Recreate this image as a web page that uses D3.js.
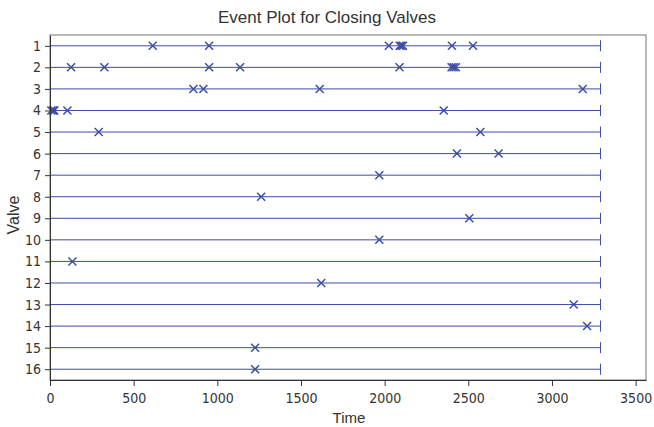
<!DOCTYPE html>
<html>
<head>
<meta charset="utf-8">
<script src="https://cdn.jsdelivr.net/npm/d3@7"></script>
<style>
  body { margin: 0; background: #fff; }
  svg { display: block; }
  .tick text { font-family: "DejaVu Sans Condensed", "DejaVu Sans", sans-serif; font-size: 14px; fill: #333; }
  .tick line { stroke: #333; }
  .domain { stroke: #333; }
</style>
</head>
<body>
<div id="graf"></div>
<script>
// Data
const valves = d3.range(1, 17)
const endTime = 3290
const events = [
  [614, 951, 2025, 2090, 2100, 2110, 2402, 2528],
  [126, 325, 951, 1136, 2089, 2400, 2412, 2425],
  [857, 917, 1612, 3184],
  [8, 18, 26, 104, 2353],
  [291, 2572],
  [2432, 2681],
  [1968],
  [1262],
  [2506],
  [1968],
  [134],
  [1621],
  [3130],
  [3210],
  [1226],
  [1226],
]
const xTicks = [0, 500, 1000, 1500, 2000, 2500, 3000, 3500]

const anchoTotal = 654
const altoTotal = 427
const margins = { left: 50, top: 35, right: 8, bottom: 47 }
const ancho = anchoTotal - margins.left - margins.right
const alto = altoTotal - margins.top - margins.bottom
const color = "#3d4ca5"

const svg = d3
  .select("#graf")
  .append("svg")
  .attr("width", anchoTotal)
  .attr("height", altoTotal)

const g = svg
  .append("g")
  .attr("transform", `translate(${margins.left}, ${margins.top})`)

// Escaladores
const x = d3.scaleLinear().domain([0, 3562]).range([0, ancho])
const y = d3.scaleLinear().domain([0.5, 16.5]).range([0, alto])

// Marco
g.append("rect")
  .attr("width", ancho)
  .attr("height", alto)
  .attr("fill", "none")
  .attr("stroke", "#777")

// Lineas por valvula
const filas = g
  .selectAll("g.fila")
  .data(valves)
  .join("g")
  .attr("class", "fila")
  .attr("transform", (d) => `translate(0, ${y(d)})`)

filas
  .append("line")
  .attr("x1", x(0))
  .attr("x2", x(endTime))
  .attr("stroke", color)
  .attr("stroke-width", 1)

filas
  .append("line")
  .attr("x1", x(endTime))
  .attr("x2", x(endTime))
  .attr("y1", -5.5)
  .attr("y2", 5.5)
  .attr("stroke", color)
  .attr("stroke-width", 1)

// Eventos (cruces)
const s = 4
filas
  .selectAll("path.ev")
  .data((d, i) => events[i])
  .join("path")
  .attr("class", "ev")
  .attr("d", (t) => `M${x(t) - s},${-s}L${x(t) + s},${s}M${x(t) - s},${s}L${x(t) + s},${-s}`)
  .attr("stroke", color)
  .attr("stroke-width", 1.5)
  .attr("fill", "none")

// Ejes
g.append("g")
  .attr("transform", `translate(0, ${alto})`)
  .call(
    d3.axisBottom(x).tickValues(xTicks).tickFormat(d3.format("d"))
      .tickSize(6).tickSizeOuter(0).tickPadding(7)
  )

g.append("g")
  .call(d3.axisLeft(y).tickValues(valves).tickSize(5).tickSizeOuter(0).tickPadding(4))

// Titulos
svg
  .append("text")
  .attr("x", 327)
  .attr("y", 23)
  .attr("text-anchor", "middle")
  .attr("font-family", "Liberation Sans, Arial, sans-serif")
  .attr("font-size", 17)
  .attr("fill", "#333")
  .text("Event Plot for Closing Valves")

svg
  .append("text")
  .attr("x", 349)
  .attr("y", 423)
  .attr("text-anchor", "middle")
  .attr("font-family", "Liberation Sans, Arial, sans-serif")
  .attr("font-size", 15)
  .attr("fill", "#333")
  .text("Time")

svg
  .append("text")
  .attr("transform", "translate(19, 215) rotate(-90)")
  .attr("text-anchor", "middle")
  .attr("font-family", "Liberation Sans, Arial, sans-serif")
  .attr("font-size", 16)
  .attr("fill", "#333")
  .text("Valve")
</script>
</body>
</html>
